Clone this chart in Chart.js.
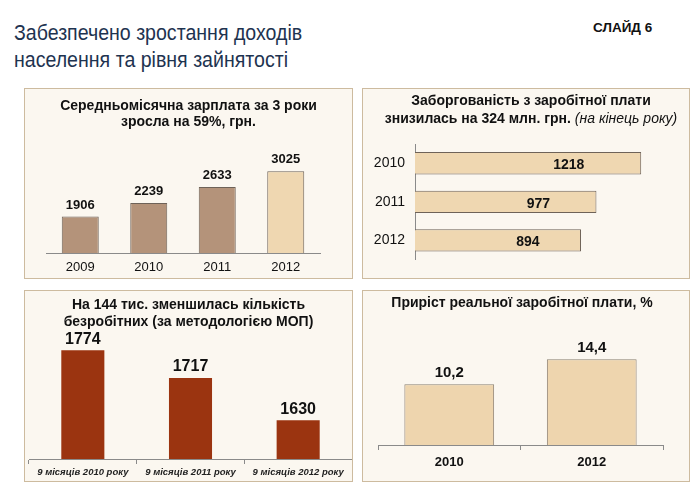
<!DOCTYPE html>
<html>
<head>
<meta charset="utf-8">
<script src="https://cdn.jsdelivr.net/npm/chart.js@4/dist/chart.umd.min.js"></script>
<style>
  body { margin: 0; width: 700px; height: 485px; background: #fff; position: relative; overflow: hidden;
         font-family: 'Liberation Sans', Arial, sans-serif; }
  .main-title { position: absolute; left: 14px; top: 20px; font-size: 21.5px; line-height: 27px; color: #1e3350;
                transform: scaleX(0.91); transform-origin: left top; white-space: nowrap; }
  .slide-no { position: absolute; left: 593px; top: 20px; font-size: 13.5px; font-weight: bold; color: #111; }
  .panel { position: absolute; box-sizing: border-box; border: 1px solid #cdbb9f; background: #fbf7f0; }
  .panel canvas { position: absolute; left: 0; top: 0; }
  .ptitle { position: absolute; left: 0; right: 0; text-align: center; font-weight: bold; color: #111; z-index: 2; }
  .ptitle i { font-weight: normal; }
</style>
</head>
<body>
<div class="main-title">Забезпечено зростання доходів<br>населення та рівня зайнятості</div>
<div class="slide-no">СЛАЙД 6</div>

<div class="panel" style="left:24px; top:88px; width:329px; height:191px;">
  <div class="ptitle" style="top:8px; font-size:14px; line-height:16px;">Середньомісячна зарплата за 3 роки<br>зросла на 59%, грн.</div>
  <canvas id="salaryChart" width="327" height="189"></canvas>
</div>

<div class="panel" style="left:362px; top:88px; width:328px; height:191px;">
  <div class="ptitle" style="top:2px; left:10px; font-size:14px; line-height:18px;">Заборгованість з заробітної плати<br>знизилась на 324 млн. грн. <i>(на кінець року)</i></div>
  <canvas id="debtChart" width="326" height="189"></canvas>
</div>

<div class="panel" style="left:24px; top:290px; width:329px; height:192px;">
  <div class="ptitle" style="top:5px; font-size:14px; line-height:17px;">На 144 тис. зменшилась кількість<br>безробітних (за методологією МОП)</div>
  <canvas id="unempChart" width="327" height="190"></canvas>
</div>

<div class="panel" style="left:362px; top:290px; width:328px; height:192px;">
  <div class="ptitle" style="top:3px; left:-8px; font-size:14px; line-height:17px;">Приріст реальної заробітної плати, %</div>
  <canvas id="realChart" width="326" height="190"></canvas>
</div>

<script>
// Data
const salaryYears = ['2009', '2010', '2011', '2012'];
const salaryValues = [1906, 2239, 2633, 3025];

const debtYears = ['2010', '2011', '2012'];
const debtValues = [1218, 977, 894];

const unempPeriods = ['9 місяців 2010 року', '9 місяців 2011 року', '9 місяців 2012 року'];
const unempValues = [1774, 1717, 1630];

const realYears = ['2010', '2012'];
const realValues = [10.2, 14.4];

const FONT = "'Liberation Sans', Arial, sans-serif";
const AXIS_GRAY = '#8a8a8a';

// draws the value of each bar, above it or inside it
const valueLabels = {
  id: 'valueLabels',
  afterDatasetsDraw(chart, args, opts) {
    const ctx = chart.ctx;
    const data = chart.data.datasets[0].data;
    ctx.save();
    ctx.font = opts.font;
    ctx.fillStyle = '#111';
    ctx.textAlign = 'center';
    chart.getDatasetMeta(0).data.forEach((bar, i) => {
      const txt = opts.format ? opts.format(data[i]) : String(data[i]);
      if (opts.inside) {
        ctx.textBaseline = 'middle';
        const x = chart.scales.x.getPixelForValue(data[i] * opts.inside);
        ctx.fillText(txt, x, bar.y + 2);
      } else {
        ctx.textBaseline = 'bottom';
        ctx.fillText(txt, bar.x, bar.y - opts.offset);
      }
    });
    ctx.restore();
  }
};

Chart.defaults.font.family = FONT;
Chart.defaults.color = '#111';
Chart.defaults.animation = false;
Chart.defaults.responsive = false;
Chart.defaults.plugins.legend.display = false;
Chart.defaults.plugins.tooltip.enabled = false;

// 1. average salary
new Chart(document.getElementById('salaryChart'), {
  type: 'bar',
  data: {
    labels: salaryYears,
    datasets: [{
      data: salaryValues,
      backgroundColor: ['#b4937a', '#b4937a', '#b4937a', '#efd7b1'],
      borderColor: '#6e6258', borderWidth: 1,
      barPercentage: 0.54, categoryPercentage: 1
    }]
  },
  options: {
    layout: { padding: { left: 21, right: 32, top: 51, bottom: 0 } },
    scales: {
      x: {
        grid: { display: false, drawTicks: false },
        border: { display: true, color: AXIS_GRAY },
        ticks: { font: { size: 13 }, padding: 7, color: '#111' },
        afterFit: (axis) => { axis.height = 25; }
      },
      y: { display: false, min: 1000, max: 3800 }
    },
    plugins: { valueLabels: { font: 'bold 13px ' + FONT, offset: 5 } }
  },
  plugins: [valueLabels]
});

// 2. wage arrears
new Chart(document.getElementById('debtChart'), {
  type: 'bar',
  data: {
    labels: debtYears,
    datasets: [{
      data: debtValues,
      backgroundColor: '#efd7b1',
      borderColor: '#6e6258', borderWidth: 1,
      barPercentage: 0.58, categoryPercentage: 1
    }]
  },
  options: {
    indexAxis: 'y',
    layout: { padding: { left: 0, right: 14, top: 55, bottom: 13 } },
    scales: {
      x: { display: false, min: 0, max: 1400 },
      y: {
        grid: { display: false, drawTicks: false },
        border: { display: true, color: AXIS_GRAY },
        ticks: { font: { size: 14 }, padding: 10, color: '#111' },
        afterFit: (axis) => { axis.width = 52; }
      }
    },
    plugins: { valueLabels: { font: 'bold 14px ' + FONT, inside: 0.68 } }
  },
  plugins: [valueLabels]
});

// 3. unemployed (ILO methodology)
new Chart(document.getElementById('unempChart'), {
  type: 'bar',
  data: {
    labels: unempPeriods,
    datasets: [{
      data: unempValues,
      backgroundColor: '#9b3410',
      borderWidth: 0,
      barPercentage: 0.4, categoryPercentage: 1
    }]
  },
  options: {
    layout: { padding: { left: 4, right: 0, top: 37, bottom: 0 } },
    scales: {
      x: {
        grid: { display: true, drawOnChartArea: false, drawTicks: true, tickLength: 5, color: AXIS_GRAY },
        border: { display: true, color: AXIS_GRAY },
        ticks: { font: { size: 9.5, style: 'italic', weight: 'bold' }, padding: 3, color: '#222' },
        afterFit: (axis) => { axis.height = 22; }
      },
      y: { display: false, min: 1550, max: 1820 }
    },
    plugins: { valueLabels: { font: 'bold 16px ' + FONT, offset: 3 } }
  },
  plugins: [valueLabels]
});

// 4. real wage growth
new Chart(document.getElementById('realChart'), {
  type: 'bar',
  data: {
    labels: realYears,
    datasets: [{
      data: realValues,
      backgroundColor: '#eed5ae',
      borderColor: '#8d8171', borderWidth: 1,
      barPercentage: 0.63, categoryPercentage: 1
    }]
  },
  options: {
    layout: { padding: { left: 15, right: 26, top: 35, bottom: 0 } },
    scales: {
      x: {
        grid: { display: true, drawOnChartArea: false, drawTicks: true, tickLength: 5, color: AXIS_GRAY },
        border: { display: true, color: AXIS_GRAY },
        ticks: { font: { size: 13, weight: 'bold' }, padding: 5, color: '#111' },
        afterFit: (axis) => { axis.height = 36; }
      },
      y: { display: false, min: 0, max: 20 }
    },
    plugins: {
      valueLabels: { font: 'bold 15px ' + FONT, offset: 4, format: (v) => String(v).replace('.', ',') }
    }
  },
  plugins: [valueLabels]
});
</script>
</body>
</html>
